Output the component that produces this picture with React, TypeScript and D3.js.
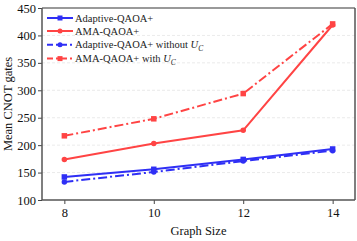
import React, { useEffect, useRef } from 'react';
import * as d3 from 'd3';

const graphSizes = [8, 10, 12, 14];
const adaptive = [142, 156, 174, 193];
const ama = [174, 203, 227, 419];
const adaptiveNoUc = [133, 151, 171, 190];
const amaWithUc = [217, 248, 294, 421];
const yTicks = [100, 150, 200, 250, 300, 350, 400, 450];

const BLUE = '#2f2ff5';
const RED = '#ff4444';

const series = [
  { name: 'Adaptive-QAOA+', values: adaptive, color: BLUE, dash: '', marker: 'square' },
  { name: 'AMA-QAOA+', values: ama, color: RED, dash: '', marker: 'circle' },
  { name: 'Adaptive-QAOA+ without ', sub: true, values: adaptiveNoUc, color: BLUE, dash: '9,3,2,3', marker: 'circle' },
  { name: 'AMA-QAOA+ with ', sub: true, values: amaWithUc, color: RED, dash: '9,3,2,3', marker: 'square' },
];

const App: React.FC = () => {
  const svgRef = useRef<SVGSVGElement | null>(null);

  useEffect(() => {
    if (!svgRef.current) return;
    const width = 357;
    const height = 241;
    const margin = { top: 8, right: 2, bottom: 41, left: 42 };
    const w = width - margin.left - margin.right;
    const h = height - margin.top - margin.bottom;

    const root = d3.select(svgRef.current);
    root.selectAll('*').remove();
    const svg = root.append('g').attr('transform', `translate(${margin.left},${margin.top})`);

    const x = d3.scaleLinear().domain([7.5, 14.5]).range([0, w]);
    const y = d3.scaleLinear().domain([100, 450]).range([h, 0]);

    // grid
    svg
      .selectAll('.grid')
      .data(yTicks.slice(1, -1))
      .enter()
      .append('line')
      .attr('x1', 0)
      .attr('x2', w)
      .attr('y1', (d) => y(d))
      .attr('y2', (d) => y(d))
      .attr('stroke', '#e4e4e4')
      .attr('stroke-width', 0.8)
      .attr('stroke-dasharray', '3,2');

    const font = '"Liberation Serif", "Times New Roman", serif';

    const yAxis = svg.append('g').call(d3.axisLeft(y).tickValues(yTicks).tickSize(4).tickPadding(2));
    const xAxis = svg
      .append('g')
      .attr('transform', `translate(0,${h})`)
      .call(d3.axisBottom(x).tickValues(graphSizes).tickSize(4).tickPadding(4).tickFormat(d3.format('d')));
    [xAxis, yAxis].forEach((a) => {
      a.select('.domain').remove();
      a.selectAll('line').attr('stroke', '#444');
      a.selectAll('text').attr('font-family', font).attr('font-size', 12.5).attr('fill', '#111');
    });

    // frame
    svg.append('line').attr('x1', 0).attr('x2', w).attr('y1', 0).attr('y2', 0).attr('stroke', '#999').attr('stroke-width', 2);
    svg.append('line').attr('x1', 0).attr('x2', w).attr('y1', h).attr('y2', h).attr('stroke', '#555').attr('stroke-width', 1.5);
    svg.append('line').attr('x1', 0).attr('x2', 0).attr('y1', 0).attr('y2', h).attr('stroke', '#555').attr('stroke-width', 1.5);
    svg.append('line').attr('x1', w).attr('x2', w).attr('y1', 0).attr('y2', h).attr('stroke', '#555').attr('stroke-width', 1.5);

    const line = d3
      .line<number>()
      .x((_, i) => x(graphSizes[i]))
      .y((d) => y(d));

    const drawMarker = (g: any, type: string, cx: number, cy: number, color: string, s: number) => {
      if (type === 'square') {
        g.append('rect').attr('x', cx - s / 2).attr('y', cy - s / 2).attr('width', s).attr('height', s).attr('fill', color);
      } else {
        g.append('circle').attr('cx', cx).attr('cy', cy).attr('r', s / 2).attr('fill', color);
      }
    };

    series.forEach((s) => {
      svg
        .append('path')
        .datum(s.values)
        .attr('d', line)
        .attr('fill', 'none')
        .attr('stroke', s.color)
        .attr('stroke-width', 2)
        .attr('stroke-dasharray', s.dash || null);
      s.values.forEach((v, i) => drawMarker(svg, s.marker, x(graphSizes[i]), y(v), s.color, 5.5));
    });

    // legend
    const lg = svg.append('g').attr('transform', 'translate(5,10)');
    series.forEach((s, i) => {
      const ly = i * 13 + (i > 1 ? (i - 1) * 0.8 : 0);
      const row = lg.append('g').attr('transform', `translate(0,${ly})`);
      row
        .append('line')
        .attr('x1', 0)
        .attr('x2', 26)
        .attr('y1', 0)
        .attr('y2', 0)
        .attr('stroke', s.color)
        .attr('stroke-width', 2)
        .attr('stroke-dasharray', s.dash ? '6,3,2,3' : null);
      drawMarker(row, s.marker, 13, 0, s.color, 5);
      const t = row
        .append('text')
        .attr('x', 28)
        .attr('y', 3.5)
        .attr('font-family', font)
        .attr('font-size', 10.5)
        .attr('fill', '#222')
        .text(s.name);
      if (s.sub) {
        t.append('tspan').attr('font-style', 'italic').text('U');
        t.append('tspan').attr('font-style', 'italic').attr('font-size', 7.5).attr('dy', 2.5).text('C');
      }
    });

    // axis labels
    svg
      .append('text')
      .attr('x', w / 2)
      .attr('y', h + 35)
      .attr('text-anchor', 'middle')
      .attr('font-family', font)
      .attr('font-size', 12.5)
      .attr('fill', '#111')
      .text('Graph Size');
    svg
      .append('text')
      .attr('transform', `translate(${-30},${h / 2}) rotate(-90)`)
      .attr('text-anchor', 'middle')
      .attr('font-family', font)
      .attr('font-size', 12.5)
      .attr('fill', '#111')
      .text('Mean CNOT gates');
  }, []);

  return (
    <svg
      ref={svgRef}
      width={357}
      height={241}
      style={{ position: 'absolute', left: 0, top: 0, background: '#fff' }}
    ></svg>
  );
};

export default App;
